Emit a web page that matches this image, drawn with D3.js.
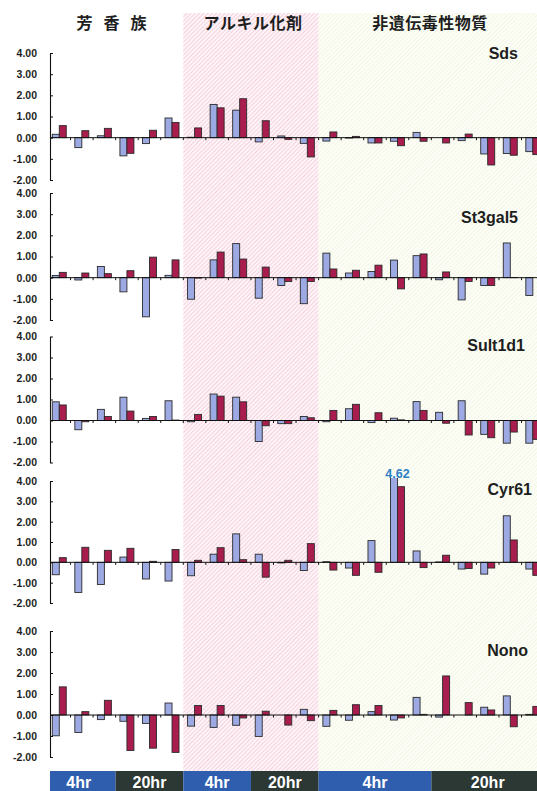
<!DOCTYPE html>
<html>
<head>
<meta charset="utf-8">
<script src="https://cdn.jsdelivr.net/npm/d3@7"></script>
<style>
  html, body { margin: 0; padding: 0; background: #ffffff; }
  svg { display: block; }
</style>
</head>
<body>
<svg id="chart" width="537" height="791"></svg>
<script>
// ---- data ----
const groups = [1, 2, 3, 4, 5, 6, 7, 8, 9, 10, 11, 12, 13, 14, 15, 16, 17, 18, 19, 20, 21, 22];
const genes = ["Sds", "St3gal5", "Sult1d1", "Cyr61", "Nono"];
const seriesKeys = ["blue", "red"];

const sdsBlue   = [0.16, -0.47, 0.09, -0.86, -0.28, 0.93, 0.02, 1.57, 1.30, -0.20, 0.08, -0.27, -0.16, -0.02, -0.25, -0.17, 0.25, 0.00, -0.14, -0.77, -0.75, -0.66];
const sdsRed    = [0.57, 0.33, 0.44, -0.74, 0.35, 0.72, 0.46, 1.41, 1.84, 0.80, -0.08, -0.91, 0.27, 0.06, -0.25, -0.38, -0.17, -0.25, 0.17, -1.29, -0.83, -0.80];
const st3Blue   = [0.10, -0.11, 0.53, -0.67, -1.85, 0.11, -1.02, 0.84, 1.61, -0.97, -0.37, -1.23, 1.16, 0.22, 0.29, 0.83, 1.04, -0.10, -1.05, -0.37, 1.64, -0.84];
const st3Red    = [0.25, 0.22, 0.19, 0.33, 0.97, 0.84, -0.02, 1.21, 0.88, 0.50, -0.18, -0.18, 0.41, 0.35, 0.59, -0.53, 1.12, 0.27, -0.18, -0.37, 0.01, 0.00];
const sultBlue  = [0.89, -0.44, 0.53, 1.11, 0.10, 0.94, -0.06, 1.26, 1.11, -1.00, -0.15, 0.19, -0.06, 0.56, -0.10, 0.11, 0.90, 0.39, 0.94, -0.66, -1.08, -1.08];
const sultRed   = [0.74, -0.06, 0.19, 0.45, 0.19, 0.02, 0.29, 1.16, 0.89, -0.25, -0.15, 0.13, 0.48, 0.77, 0.37, 0.03, 0.48, -0.13, -0.69, -0.82, -0.55, -0.90];
const cyrBlue   = [-0.61, -1.48, -1.09, 0.26, -0.82, -0.92, -0.66, 0.40, 1.40, 0.40, -0.03, -0.40, 0.03, -0.28, 1.07, 4.62, 0.56, 0.02, -0.33, -0.58, 2.29, -0.33];
const cyrRed    = [0.23, 0.74, 0.59, 0.69, 0.05, 0.63, 0.10, 0.72, 0.13, -0.73, 0.10, 0.92, -0.38, -0.64, -0.49, 3.72, -0.26, 0.35, -0.30, -0.28, 1.10, -0.64];
const nonoBlue  = [-0.99, -0.83, -0.22, -0.30, -0.40, 0.57, -0.53, -0.59, -0.49, -1.02, 0.00, 0.27, -0.54, -0.25, 0.16, -0.24, 0.84, -0.10, 0.00, 0.37, 0.91, 0.03];
const nonoRed   = [1.34, 0.16, 0.70, -1.69, -1.58, -1.78, 0.45, 0.45, -0.14, 0.18, -0.48, -0.27, 0.22, 0.49, 0.45, -0.14, 0.03, 1.86, 0.59, 0.24, -0.56, 0.41];

const yTicks = [4, 3, 2, 1, 0, -1, -2];

// compound classes: first and last group index (1-based, inclusive)
const classNames  = ["芳香族", "アルキル化剤", "非遺伝毒性物質"];
const classFirst  = [1, 7, 13];
const classLast   = [6, 12, 22];

// sampling time segments
const timeLabels = ["4hr", "20hr", "4hr", "20hr", "4hr", "20hr"];
const timeFirst  = [1, 4, 7, 10, 13, 18];
const timeLast   = [3, 6, 9, 12, 17, 22];

// value printed above the off-scale bar
const calloutGene = "Cyr61";
const calloutGroup = 16;

// ---- assembled tables ----
const panels = [
  { gene: "Sds",     blue: sdsBlue,  red: sdsRed },
  { gene: "St3gal5", blue: st3Blue,  red: st3Red },
  { gene: "Sult1d1", blue: sultBlue, red: sultRed },
  { gene: "Cyr61",   blue: cyrBlue,  red: cyrRed },
  { gene: "Nono",    blue: nonoBlue, red: nonoRed }
];

// ---- layout ----
const W = 537, H = 791;
const panelLayout = [
  { top: 53,    bottom: 180,   labelX: 518, labelY: 59 },
  { top: 193,   bottom: 320,   labelX: 518, labelY: 223 },
  { top: 336.5, bottom: 462.5, labelX: 525, labelY: 351 },
  { top: 481,   bottom: 603,   labelX: 532, labelY: 495 },
  { top: 631,   bottom: 757,   labelX: 528, labelY: 656 }
];
const headingX = [117, 253, 430];
const axisX = 50;
const bandStart = 48, bandStep = 22.55;
const barW = 7;
const regionTop = 13, stripTop = 771, stripBottom = 791;

const colors = {
  blue: "#9da9e2",
  red: "#a81c4e",
  barStroke: "#2b2b2b",
  text: "#1e1e1e",
  stripBlue: "#2f5eae",
  stripDark: "#2c3834",
  callout: "#2a7fc6"
};

const svg = d3.select("#chart");

const x0 = d3.scaleBand()
  .domain(groups)
  .range([bandStart, bandStart + bandStep * groups.length])
  .paddingInner(0).paddingOuter(0);

const x1 = d3.scaleBand()
  .domain(seriesKeys)
  .range([x0.bandwidth() / 2 - barW, x0.bandwidth() / 2 + barW]);

// ---- hatched backgrounds ----
const defs = svg.append("defs");
function hatch(id, bg, line) {
  const p = defs.append("pattern")
    .attr("id", id)
    .attr("patternUnits", "userSpaceOnUse")
    .attr("width", 3).attr("height", 3)
    .attr("patternTransform", "rotate(45)");
  p.append("rect").attr("width", 3).attr("height", 3).attr("fill", bg);
  p.append("line").attr("x1", 0.5).attr("y1", 0).attr("x2", 0.5).attr("y2", 3)
    .attr("stroke", line).attr("stroke-width", 0.8);
}
hatch("hatchPink", "#fdf5f8", "#f4c6d7");
hatch("hatchGreen", "#fdfef8", "#eff4de");

const regionFill = ["#ffffff", "url(#hatchPink)", "url(#hatchGreen)"];
classNames.forEach((name, i) => {
  const xa = i === 0 ? 0 : x0(classFirst[i]);
  const xb = i === classNames.length - 1 ? W : x0(classLast[i]) + x0.bandwidth();
  svg.append("rect")
    .attr("x", xa).attr("y", regionTop)
    .attr("width", xb - xa).attr("height", stripTop - regionTop)
    .attr("fill", regionFill[i]);
});

// class headings
classNames.forEach((name, i) => {
  svg.append("text")
    .attr("x", headingX[i])
    .attr("y", 29)
    .attr("text-anchor", "middle")
    .attr("font-family", "'Noto Sans CJK JP', sans-serif")
    .attr("font-weight", 700)
    .attr("font-size", 16)
    .attr("letter-spacing", i === 0 ? 11 : 0.5)
    .attr("fill", colors.text)
    .text(name);
});

// ---- panels ----
panels.forEach((panel, pi) => {
  const L = panelLayout[pi];
  const y = d3.scaleLinear().domain([-2, 4]).range([L.bottom, L.top]);
  const g = svg.append("g");

  const clipId = "clip" + pi;
  defs.append("clipPath").attr("id", clipId)
    .append("rect")
    .attr("x", 0).attr("y", L.top - 3)
    .attr("width", W).attr("height", L.bottom - L.top + 6);

  const rows = groups.map((grp, i) => ({ group: grp, blue: panel.blue[i], red: panel.red[i] }));

  const bars = g.append("g").attr("clip-path", `url(#${clipId})`);
  bars.selectAll("g.grp")
    .data(rows)
    .join("g")
    .attr("class", "grp")
    .attr("transform", d => `translate(${x0(d.group)},0)`)
    .selectAll("rect")
    .data(d => seriesKeys.map(k => ({ key: k, value: d[k] })))
    .join("rect")
    .attr("x", d => x1(d.key))
    .attr("width", x1.bandwidth())
    .attr("y", d => y(Math.max(0, d.value)))
    .attr("height", d => Math.abs(y(d.value) - y(0)))
    .attr("fill", d => colors[d.key])
    .attr("stroke", colors.barStroke)
    .attr("stroke-width", 0.9);

  // zero line with tick marks at group boundaries
  g.append("line")
    .attr("x1", axisX).attr("x2", W)
    .attr("y1", y(0)).attr("y2", y(0))
    .attr("stroke", "#111").attr("stroke-width", 1);
  g.selectAll("line.xt")
    .data(groups.slice(1))
    .join("line")
    .attr("class", "xt")
    .attr("x1", d => x0(d)).attr("x2", d => x0(d))
    .attr("y1", y(0)).attr("y2", y(0) + 2.5)
    .attr("stroke", "#111").attr("stroke-width", 1);

  // value axis
  const yAxis = d3.axisLeft(y)
    .tickValues(yTicks)
    .tickFormat(d => d.toFixed(2))
    .tickSizeInner(-3)
    .tickSizeOuter(0)
    .tickPadding(13);
  const ya = g.append("g")
    .attr("transform", `translate(${axisX},0)`)
    .call(yAxis);
  ya.select(".domain").attr("stroke", "#111").attr("stroke-width", 1.1);
  ya.selectAll(".tick line").attr("stroke", "#111");
  ya.selectAll(".tick text")
    .attr("font-family", "'Liberation Sans', Arial, sans-serif")
    .attr("font-weight", 700)
    .attr("font-size", 10.5)
    .attr("fill", colors.text);

  // gene name
  g.append("text")
    .attr("x", L.labelX).attr("y", L.labelY)
    .attr("text-anchor", "end")
    .attr("font-family", "'Liberation Sans', Arial, sans-serif")
    .attr("font-weight", 700)
    .attr("font-size", 16)
    .attr("fill", colors.text)
    .text(panel.gene);

  // printed value for the off-scale bar
  if (panel.gene === calloutGene) {
    const v = panel.blue[groups.indexOf(calloutGroup)];
    g.append("text")
      .attr("x", x0(calloutGroup) + x0.bandwidth() / 2)
      .attr("y", L.top - 3)
      .attr("text-anchor", "middle")
      .attr("font-family", "'Liberation Sans', Arial, sans-serif")
      .attr("font-weight", 700)
      .attr("font-size", 12.5)
      .attr("fill", colors.callout)
      .text(v.toFixed(2));
  }
});

// ---- time strip ----
timeLabels.forEach((lab, i) => {
  const xa = i === 0 ? axisX : x0(timeFirst[i]);
  const xb = x0(timeLast[i]) + x0.bandwidth();
  svg.append("rect")
    .attr("x", xa).attr("y", stripTop)
    .attr("width", xb - xa).attr("height", stripBottom - stripTop)
    .attr("fill", lab === "4hr" ? colors.stripBlue : colors.stripDark);
  svg.append("text")
    .attr("x", (xa + Math.min(xb, W + 10)) / 2 - (i === 0 ? 4 : 0))
    .attr("y", stripBottom - 3)
    .attr("text-anchor", "middle")
    .attr("font-family", "'Liberation Sans', Arial, sans-serif")
    .attr("font-weight", 700)
    .attr("font-size", 16)
    .attr("fill", "#ffffff")
    .text(lab);
});
</script>
</body>
</html>
